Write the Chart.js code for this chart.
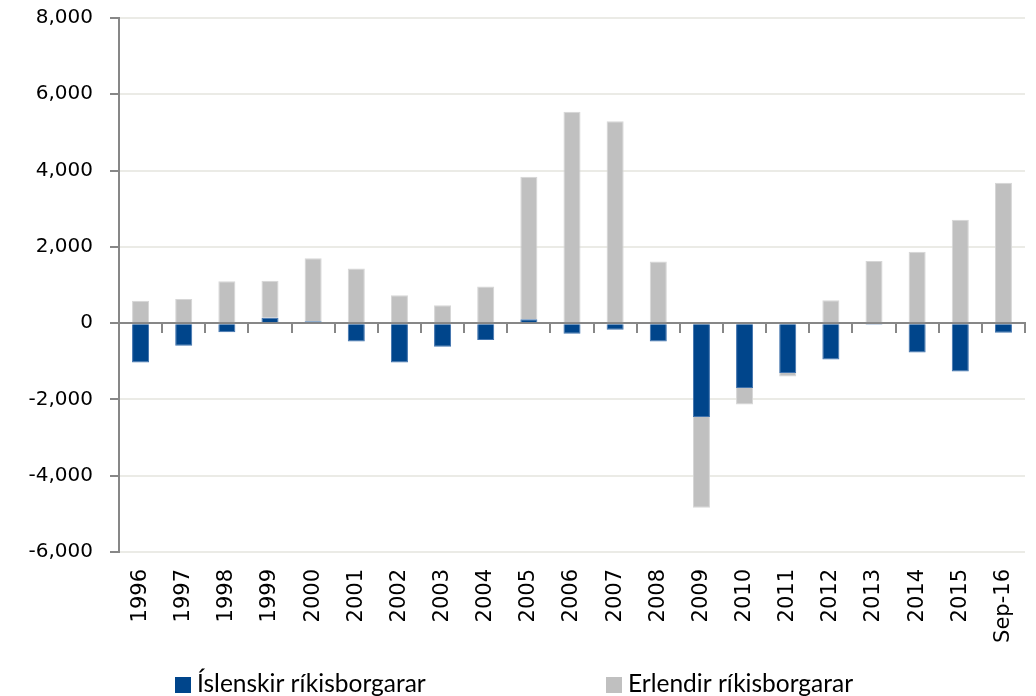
<!DOCTYPE html>
<html>
<head>
<meta charset="utf-8">
<script src="https://cdn.jsdelivr.net/npm/chart.js@4.4.1/dist/chart.umd.min.js"></script>
<style>
  html, body { margin: 0; padding: 0; background: #fff; }
  #wrap { position: relative; width: 1036px; height: 696px; }
</style>
</head>
<body>
<div id="wrap"><canvas id="c" width="1036" height="696"></canvas></div>
<script>
const categories = ['1996','1997','1998','1999','2000','2001','2002','2003','2004','2005','2006','2007','2008','2009','2010','2011','2012','2013','2014','2015','Sep-16'];
const islenskir = [-1030, -590, -240, 140, 50, -480, -1030, -620, -440, 100, -280, -170, -480, -2460, -1700, -1310, -950, -40, -770, -1270, -250];
const erlendir = [585, 630, 1100, 970, 1650, 1430, 730, 470, 960, 3740, 5540, 5290, 1615, -2380, -430, -90, 600, 1630, 1870, 2710, 3680];
const seriesNames = ['Íslenskir ríkisborgarar', 'Erlendir ríkisborgarar'];
const yTicks = [-6000, -4000, -2000, 0, 2000, 4000, 6000, 8000];

const BLUE = '#00458b';
const GRAY = '#c0c0c0';
const AXIS = '#878787';

const legendPlugin = {
  id: 'customLegend',
  afterDraw(chart) {
    const ctx = chart.ctx;
    const xs = [175, 606];
    ctx.save();
    ctx.font = '24.5px Lato';
    ctx.textBaseline = 'middle';
    ctx.textAlign = 'left';
    chart.data.datasets.forEach((ds, i) => {
      ctx.fillStyle = ds.backgroundColor;
      ctx.fillRect(xs[i], 677, 16, 16);
      ctx.fillStyle = '#000';
      ctx.fillText(ds.label, xs[i] + 22, 684);
    });
    ctx.restore();
  }
};

function zeroPad(scale) {
  scale.paddingTop = 0; scale.paddingBottom = 0;
  scale.paddingLeft = 0; scale.paddingRight = 0;
}

new Chart(document.getElementById('c'), {
  type: 'bar',
  data: {
    labels: categories,
    datasets: [
      { label: seriesNames[0], data: islenskir, backgroundColor: BLUE, borderColor: '#3f72ad', borderWidth: 1,
        categoryPercentage: 1, barPercentage: 0.395 },
      { label: seriesNames[1], data: erlendir, backgroundColor: GRAY, borderColor: '#d6d6d6', borderWidth: 1,
        categoryPercentage: 1, barPercentage: 0.395 }
    ]
  },
  options: {
    responsive: false,
    animation: false,
    layout: { padding: { top: 18, right: 11, left: 0, bottom: 0 } },
    plugins: { legend: { display: false }, tooltip: { enabled: false }, title: { display: false } },
    scales: {
      x: {
        stacked: true,
        grid: { display: false, drawTicks: false },
        border: { display: false },
        ticks: {
          autoSkip: false, maxRotation: 90, minRotation: 90, padding: 17,
          color: '#000', font: { family: 'DejaVu Sans', size: 21 }
        },
        afterFit(scale) { scale.height = 144; zeroPad(scale); }
      },
      xz: {
        type: 'category',
        labels: categories,
        position: { y: 0 },
        offset: true,
        grid: { offset: true, drawOnChartArea: false, tickLength: 9, tickColor: AXIS, lineWidth: 2 },
        border: { display: true, color: AXIS, width: 2 },
        ticks: { display: false },
        afterFit(scale) { zeroPad(scale); }
      },
      y: {
        stacked: true,
        min: -6000, max: 8000,
        afterBuildTicks(scale) { scale.ticks = yTicks.map(v => ({ value: v })); },
        ticks: {
          padding: 17, color: '#000',
          font: { family: 'DejaVu Sans', size: 20 },
          callback: v => v.toLocaleString('en-US')
        },
        grid: { color: '#ebebe6', lineWidth: 2, tickLength: 9, tickColor: AXIS },
        border: { display: true, color: AXIS, width: 2 },
        afterFit(scale) { scale.width = 119; zeroPad(scale); }
      }
    }
  },
  plugins: [legendPlugin]
});
</script>
</body>
</html>
